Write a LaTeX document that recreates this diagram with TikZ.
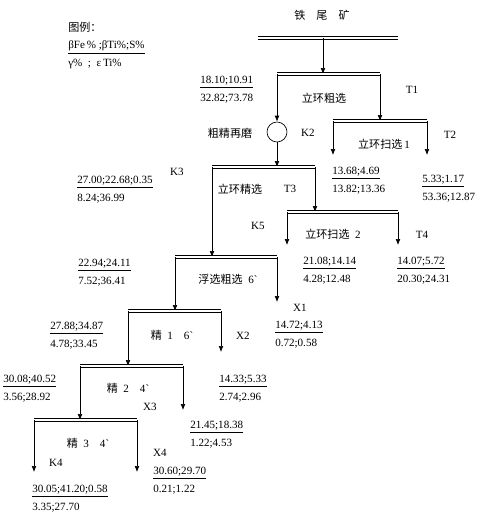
\documentclass[tikz,border=0pt]{standalone}
\usepackage{fontspec}
\setmainfont{Liberation Serif}
\newfontfamily\cjk{Noto Sans CJK SC}
\usetikzlibrary{arrows.meta}
\tikzset{
	bar/.style={double,double distance=1.1pt,line width=0.65pt},
	fl/.style={-{Latex[length=4.5pt,width=3.6pt]},line width=0.5pt},
	lab/.style={inner sep=0pt,font=\fontsize{8.3}{10}\selectfont},
	dat/.style={inner sep=0pt,anchor=west,align=left,font=\fontsize{8.3}{13.4}\selectfont},
}

\begin{document}
\begin{tikzpicture}[x=0.75pt,y=-0.75pt]
	\useasboundingbox (0,0) rectangle (494,525);

	\node[dat] (legend) at (68,45.5) {{\cjk 图例：}\\\underline{βFe\,\% ;βTi\%;S\%}\\γ\%\enspace;\enspace ε\,Ti\%};

	\node[lab] (feed) at (322,15) {\cjk 铁\quad 尾\quad 矿};
	\coordinate (f1) at (258,38);
	\coordinate (f2) at (398,38);
	\coordinate (f0) at (323,38);
	\draw[bar] (f1) -- (f2);

	\coordinate (t1l) at (277,74);
	\coordinate (t1r) at (380,74);
	\coordinate (t1c) at (323,74);
	\draw[fl] (f0) -- (t1c);
	\draw[bar] (t1l) -- (t1r);
	\node[lab] (t1name) at (324,98) {\cjk 立环粗选};
	\node[lab] (t1) at (412,90) {T1};
	\node[dat] (dt1) at (200,90) {\underline{18.10;10.91}\\32.82;73.78};

	\node[draw,circle,minimum size=15pt,inner sep=0pt,line width=0.5pt] (mill) at (277,132) {};
	\node[lab] (millname) at (230,133) {\cjk 粗精再磨};
	\node[lab] (k2) at (308,133) {K2};
	\draw[fl] (t1l) -- (mill);

	\coordinate (t2l) at (333,121);
	\coordinate (t2r) at (427,121);
	\coordinate (t2c) at (380,121);
	\coordinate (t2k) at (333,155);
	\coordinate (t2t) at (427,155);
	\draw[fl] (t1r) -- (t2c);
	\draw[bar] (t2l) -- (t2r);
	\draw[fl] (t2l) -- (t2k);
	\draw[fl] (t2r) -- (t2t);
	\node[lab] (t2name) at (384,144) {{\cjk 立环扫选}\,1};
	\node[lab] (t2) at (450,135) {T2};
	\node[dat] (dt2k) at (332,181) {\underline{13.68;4.69}\\13.82;13.36};
	\node[dat] (dt2t) at (422,189) {\underline{5.33;1.17}\\53.36;12.87};

	\coordinate (k3l) at (212,167);
	\coordinate (k3r) at (315,167);
	\coordinate (k3c) at (277,167);
	\draw[fl] (mill) -- (k3c);
	\draw[bar] (k3l) -- (k3r);
	\node[lab] (k3name) at (240,189) {\cjk 立环精选};
	\node[lab] (t3) at (290,189) {T3};
	\node[lab] (k3) at (177,172) {K3};
	\node[lab] (k5) at (258,226) {K5};
	\node[dat] (dk3) at (77,189.5) {\underline{27.00;22.68;0.35}\\8.24;36.99};

	\coordinate (t3l) at (287,212);
	\coordinate (t3r) at (398,212);
	\coordinate (t3c) at (315,212);
	\coordinate (t3k) at (287,245);
	\coordinate (t3t) at (398,245);
	\draw[fl] (k3r) -- (t3c);
	\draw[bar] (t3l) -- (t3r);
	\draw[fl] (t3l) -- (t3k);
	\draw[fl] (t3r) -- (t3t);
	\node[lab] (t3name) at (333,234) {{\cjk 立环扫选}\enspace 2};
	\node[lab] (t4) at (422,235) {T4};
	\node[dat] (dt3k) at (303,271) {\underline{21.08;14.14}\\4.28;12.48};
	\node[dat] (dt3t) at (397,271) {\underline{14.07;5.72}\\20.30;24.31};

	\coordinate (fll) at (175,257);
	\coordinate (flr) at (277,257);
	\coordinate (flc) at (212,257);
	\coordinate (x1e) at (277,302);
	\draw[fl] (k3l) -- (flc);
	\draw[bar] (fll) -- (flr);
	\draw[fl] (flr) -- (x1e);
	\node[lab] (flname) at (228,279) {{\cjk 浮选粗选}\enspace 6\textasciigrave};
	\node[lab] (x1) at (300,308) {X1};
	\node[dat] (dfl) at (78,272.5) {\underline{22.94;24.11}\\7.52;36.41};
	\node[dat] (dx1) at (275,335) {\underline{14.72;4.13}\\0.72;0.58};

	\coordinate (j1l) at (128,311);
	\coordinate (j1r) at (221,311);
	\coordinate (j1c) at (175,311);
	\coordinate (x2e) at (221,352);
	\draw[fl] (fll) -- (j1c);
	\draw[bar] (j1l) -- (j1r);
	\draw[fl] (j1r) -- (x2e);
	\node[lab] (j1name) at (172,335) {{\cjk 精}\enspace 1\quad 6\textasciigrave};
	\node[lab] (x2) at (243,336) {X2};
	\node[dat] (dj1) at (50,335.5) {\underline{27.88;34.87}\\4.78;33.45};
	\node[dat] (dx2) at (219,389) {\underline{14.33;5.33}\\2.74;2.96};

	\coordinate (j2l) at (80,366);
	\coordinate (j2r) at (183,366);
	\coordinate (j2c) at (128,366);
	\coordinate (x3e) at (183,410);
	\draw[fl] (j1l) -- (j2c);
	\draw[bar] (j2l) -- (j2r);
	\draw[fl] (j2r) -- (x3e);
	\node[lab] (j2name) at (128,388) {{\cjk 精}\enspace 2\quad 4\textasciigrave};
	\node[lab] (x3) at (150,407) {X3};
	\node[dat] (dj2) at (3,389) {\underline{30.08;40.52}\\3.56;28.92};
	\node[dat] (dx3) at (190,434.5) {\underline{21.45;18.38}\\1.22;4.53};

	\coordinate (j3l) at (34,420);
	\coordinate (j3r) at (137,420);
	\coordinate (j3c) at (80,420);
	\coordinate (k4e) at (34,472);
	\coordinate (x4e) at (137,472);
	\draw[fl] (j2l) -- (j3c);
	\draw[bar] (j3l) -- (j3r);
	\draw[fl] (j3l) -- (k4e);
	\draw[fl] (j3r) -- (x4e);
	\node[lab] (j3name) at (88,443) {{\cjk 精}\enspace 3\quad 4\textasciigrave};
	\node[lab] (k4) at (56,463) {K4};
	\node[lab] (x4) at (160,453) {X4};
	\node[dat] (dk4) at (32,499) {\underline{30.05;41.20;0.58}\\3.35;27.70};
	\node[dat] (dx4) at (153,481) {\underline{30.60;29.70}\\0.21;1.22};
\end{tikzpicture}
\end{document}
